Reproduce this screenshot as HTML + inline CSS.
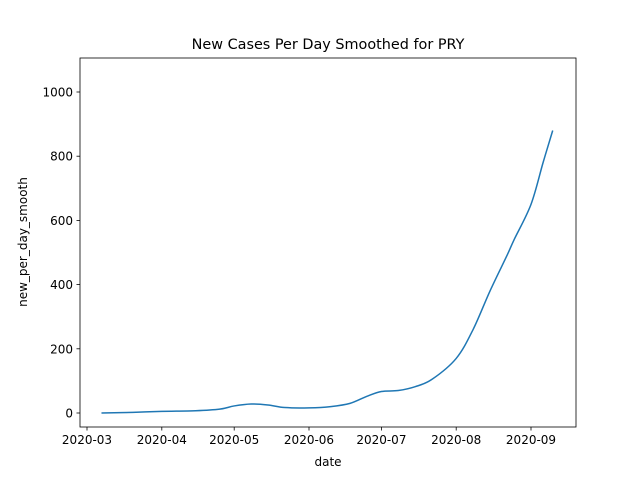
<!DOCTYPE html>
<html><head><meta charset="utf-8"><style>
body{margin:0;background:#fff;}
svg text{font-family:"DejaVu Sans","Liberation Sans",sans-serif;}
</style></head><body>
<svg id="chart" width="640" height="480" xmlns="http://www.w3.org/2000/svg">
<rect width="640" height="480" fill="#fff"/>
<text x="328" y="49" font-size="14.4" text-anchor="middle" fill="#000">New Cases Per Day Smoothed for PRY</text>
<g id="plot"></g>
<rect x="80" y="58" width="496" height="369" fill="none" stroke="#000" stroke-width="0.8"/>
<text x="328" y="466" font-size="12" text-anchor="middle">date</text>
<text x="27" y="242" font-size="12" text-anchor="middle" transform="rotate(-90 27 242)">new_per_day_smooth</text>
</svg>
<script>
// days since 2020-03-01
const dayIdx = [6,19,31,45,55,61,68,75,82,92,101,109,116,122,129,136,143,153,160,167,174,177,184,189,193];
const values = [0,2,5,7,12,22,28,25,17,16,20,30,52,67,70,82,105,170,260,380,490,540,650,780,880];
const xTickDays = [0,31,61,92,122,153,184];
const xTickLabels = ["2020-03","2020-04","2020-05","2020-06","2020-07","2020-08","2020-09"];
const yTicks = [0,200,400,600,800,1000];

const NS="http://www.w3.org/2000/svg";
const xs = d => 87 + d*(444/184);
const ys = v => 413 - v*0.321;
const g = document.getElementById('plot');
function mk(t,a){const e=document.createElementNS(NS,t);for(const k in a)e.setAttribute(k,a[k]);g.appendChild(e);return e;}
xTickDays.forEach((d,i)=>{
  const t=mk('line',{x1:xs(d),x2:xs(d),y1:427,y2:430.5,stroke:'#000','stroke-width':0.8});
  
  
  const l=mk('text',{x:xs(d),y:444,'font-size':12,'text-anchor':'middle'});
  l.textContent=xTickLabels[i];
  
  
});
yTicks.forEach(v=>{
  const t=mk('line',{x1:76.5,x2:80,y1:ys(v),y2:ys(v),stroke:'#000','stroke-width':0.8});
  
  
  const l=mk('text',{x:73,y:ys(v)+4.5,'font-size':12,'text-anchor':'end'});
  l.textContent=v;
  
  
});
const P=dayIdx.map((d,i)=>[xs(d),ys(values[i])]);
let dstr=`M${P[0][0]},${P[0][1]}`;
for(let i=0;i<P.length-1;i++){
  const p0=P[i-1]||P[i],p1=P[i],p2=P[i+1],p3=P[i+2]||P[i+1];
  const c1=[p1[0]+(p2[0]-p0[0])/6,p1[1]+(p2[1]-p0[1])/6];
  const c2=[p2[0]-(p3[0]-p1[0])/6,p2[1]-(p3[1]-p1[1])/6];
  dstr+=` C${c1[0]},${c1[1]} ${c2[0]},${c2[1]} ${p2[0]},${p2[1]}`;
}
const line=mk('path',{d:dstr,fill:'none',stroke:'#1f77b4','stroke-width':1.5});


</script>
</body></html>
